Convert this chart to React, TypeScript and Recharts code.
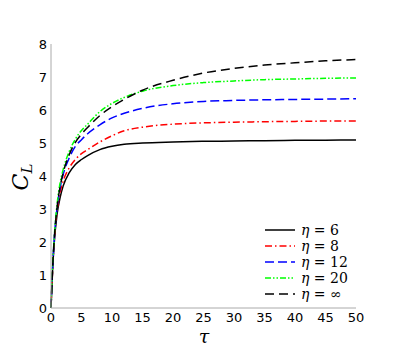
import { Label, Line, LineChart, XAxis, YAxis } from "recharts";

// sample times (tau) and lift coefficient curves
const tau = [0, 0.25, 0.5, 1, 1.5, 2, 3, 4, 5, 6, 8, 10, 12, 15, 20, 25, 30, 35, 40, 45, 50];
const eta6 = [0, 1.1, 1.9, 2.85, 3.35, 3.7, 4.1, 4.35, 4.5, 4.62, 4.8, 4.9, 4.96, 5.0, 5.03, 5.05, 5.06, 5.07, 5.08, 5.085, 5.09];
const eta8 = [0, 1.1, 1.95, 2.95, 3.5, 3.85, 4.25, 4.5, 4.68, 4.8, 5.03, 5.22, 5.37, 5.48, 5.57, 5.61, 5.63, 5.645, 5.655, 5.665, 5.67];
const eta12 = [0, 1.15, 2.0, 3.05, 3.65, 4.05, 4.55, 4.9, 5.1, 5.28, 5.55, 5.76, 5.9, 6.05, 6.19, 6.26, 6.29, 6.31, 6.32, 6.33, 6.34];
const eta20 = [0, 1.2, 2.05, 3.15, 3.8, 4.2, 4.75, 5.12, 5.38, 5.57, 5.95, 6.2, 6.38, 6.57, 6.74, 6.83, 6.88, 6.92, 6.94, 6.96, 6.97];
const etaInf = [0, 1.15, 2.0, 3.05, 3.68, 4.1, 4.65, 5.02, 5.27, 5.47, 5.83, 6.1, 6.32, 6.6, 6.9, 7.12, 7.26, 7.36, 7.43, 7.49, 7.53];

const xTicks = [0, 5, 10, 15, 20, 25, 30, 35, 40, 45, 50];
const yTicks = [0, 1, 2, 3, 4, 5, 6, 7, 8];

const series = [
  { key: "e6", value: "6", color: "#000000", dash: undefined },
  { key: "e8", value: "8", color: "#ff0000", dash: "7 3 1.5 3" },
  { key: "e12", value: "12", color: "#0000ff", dash: "9 4" },
  { key: "e20", value: "20", color: "#00ff00", dash: "6 2 1.5 2 1.5 2" },
  { key: "einf", value: "∞", color: "#000000", dash: "9 5" },
];

const data = tau.map((t, i) => ({
  t,
  e6: eta6[i],
  e8: eta8[i],
  e12: eta12[i],
  e20: eta20[i],
  einf: etaInf[i],
}));

const tickStyle = { fill: "#000", fontSize: 13, fontFamily: "DejaVu Sans" };

// legend is drawn as an overlay so it doesn't eat into the plot area
function CurveLegend() {
  return (
    <div style={{ position: "absolute", left: 264, top: 222, fontFamily: "DejaVu Serif", fontSize: 14, lineHeight: "16px" }}>
      {series.map((s) => (
        <div key={s.key} style={{ display: "flex", alignItems: "center", height: 16 }}>
          <svg width={32} height={6} style={{ marginRight: 5 }}>
            <line x1={1} y1={3} x2={31} y2={3} stroke={s.color} strokeWidth={1.5} strokeDasharray={s.dash} />
          </svg>
          <span style={{ fontStyle: "italic" }}>η</span>
          <span>&nbsp;=&nbsp;{s.value}</span>
        </div>
      ))}
    </div>
  );
}

export default function App() {
  return (
    <div style={{ position: "absolute", left: 0, top: 0, width: 407, height: 353, background: "#fff" }}>
      <LineChart width={407} height={353} data={data} margin={{ top: 44, right: 51, bottom: 15, left: 21 }}>
        <XAxis
          dataKey="t"
          type="number"
          domain={[0, 50]}
          ticks={xTicks}
          stroke="#aaa"
          tickLine={false}
          tickSize={2}
          tick={tickStyle}
          tickMargin={3}
          height={30}
        >
          <Label
            content={() => (
              <text x={204} y={343} textAnchor="middle" fontFamily="DejaVu Serif" fontStyle="italic" fontSize={19}>
                τ
              </text>
            )}
          />
        </XAxis>
        <YAxis
          type="number"
          domain={[0, 8]}
          ticks={yTicks}
          stroke="#aaa"
          tickLine={false}
          tickSize={0}
          tick={tickStyle}
          tickMargin={4}
          width={30}
        >
          <Label
            content={() => (
              <text
                x={0}
                y={0}
                transform="translate(28 177) rotate(-90)"
                textAnchor="middle"
                fontFamily="DejaVu Serif"
                fontStyle="italic"
                fontSize={22}
              >
                C<tspan fontSize={15} dy={4}>L</tspan>
              </text>
            )}
          />
        </YAxis>
        {series.map((s) => (
          <Line
            key={s.key}
            dataKey={s.key}
            name={`η = ${s.value}`}
            type="monotone"
            stroke={s.color}
            strokeWidth={1.5}
            strokeDasharray={s.dash}
            dot={false}
            isAnimationActive={false}
          />
        ))}
      </LineChart>
      <CurveLegend />
    </div>
  );
}
